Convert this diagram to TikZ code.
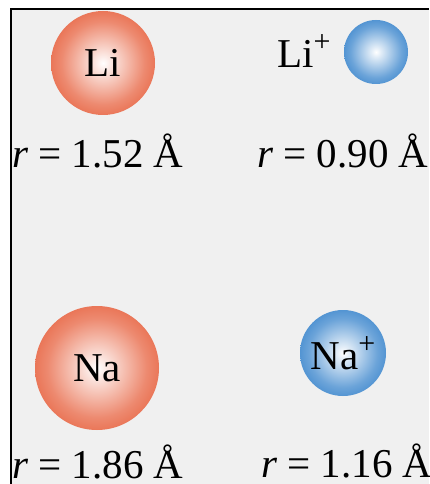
\documentclass[tikz,border=0pt]{standalone}
\usepackage{fontspec}
\setmainfont{Liberation Serif}
\definecolor{orng}{RGB}{230,92,56}
\definecolor{blu}{RGB}{50,128,202}
\definecolor{bg}{RGB}{240,240,240}
\pgfdeclareradialshading{orngball}{\pgfpoint{0bp}{0bp}}{color(0bp)=(white); color(4bp)=(orng!15!white); color(20bp)=(orng!72!white); color(32bp)=(orng); color(50bp)=(orng!92!black)}
\pgfdeclareradialshading{bluball}{\pgfpoint{0bp}{0bp}}{color(0bp)=(white); color(4bp)=(blu!15!white); color(20bp)=(blu!72!white); color(32bp)=(blu); color(50bp)=(blu!92!black)}
\newcommand{\bigtxt}{\fontsize{41}{48}\selectfont}
\newcommand{\plussup}{\raisebox{0.40em}{\fontsize{30}{30}\selectfont +}}
\tikzset{
  atom/.style={circle, inner sep=0pt, shade, shading=orngball, font=\bigtxt, text=black},
  ion/.style={circle, inner sep=0pt, shade, shading=bluball, font=\bigtxt, text=black},
  lbl/.style={anchor=base west, inner sep=0pt, font=\bigtxt, text=black}
}
\begin{document}
\begin{tikzpicture}[x=1pt,y=-1pt]
\useasboundingbox (0,0) rectangle (429,484);
\fill[white] (0,0) rectangle (429,484);
\fill[bg] (11,9) rectangle (429,484);
\draw[line width=2.6pt] (11,484) -- (11,9) -- (429,9);
% atoms
\node[atom, minimum size=104pt] (li) at (103,63) {Li};
\node[ion, minimum size=64pt] (lip) at (376,52) {};
\node[lbl] (liptxt) at (277,68) {Li\plussup};
\node[atom, minimum size=124pt] (na) at (97,368) {Na};
\node[ion, minimum size=86pt] (nap) at (343,353) {Na\plussup};
% radii
\node[lbl] (rli) at (12,167) {\textit{r} = 1.52 Å};
\node[lbl] (rlip) at (257,167) {\textit{r} = 0.90 Å};
\node[lbl] (rna) at (12,478) {\textit{r} = 1.86 Å};
\node[lbl] (rnap) at (261,477) {\textit{r} = 1.16 Å};
\end{tikzpicture}
\end{document}
